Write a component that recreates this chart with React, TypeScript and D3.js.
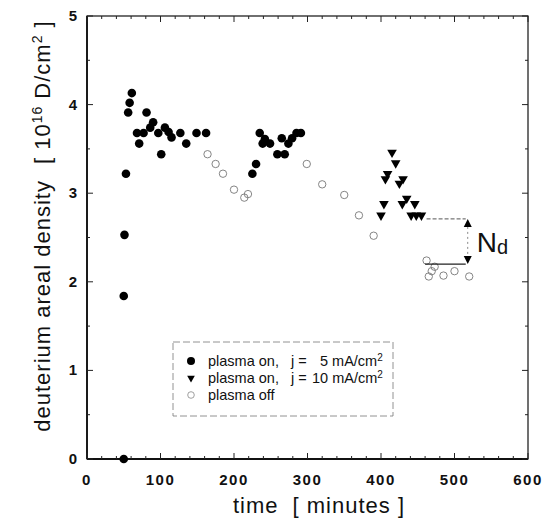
import * as d3 from 'd3'

// [time (min), deuterium areal density (1e16 D/cm2)]
const plasmaOn5: [number, number][] = [
  [50, 0.0], [50, 1.84], [51, 2.53], [53, 3.22], [56, 3.91], [58, 4.02], [61, 4.13],
  [68, 3.68], [71, 3.56], [77, 3.68], [81, 3.91], [86, 3.74], [90, 3.8], [97, 3.68],
  [101, 3.44], [106, 3.74], [111, 3.69], [115, 3.63], [127, 3.68], [135, 3.56],
  [149, 3.68], [162, 3.68],
  [225, 3.22], [230, 3.33], [235, 3.68], [239, 3.56], [242, 3.61], [249, 3.56],
  [259, 3.44], [265, 3.62], [269, 3.44], [274, 3.56], [279, 3.62], [285, 3.68], [291, 3.68],
]

const plasmaOn10: [number, number][] = [
  [400, 2.75], [404, 2.88], [406, 3.16], [409, 3.22], [415, 3.46], [420, 3.34],
  [425, 3.11], [429, 2.88], [430, 3.16], [435, 2.94], [441, 2.75], [446, 2.88],
  [448, 2.75], [455, 2.75],
]

const plasmaOff: [number, number][] = [
  [164, 3.44], [175, 3.33], [185, 3.22], [200, 3.04], [214, 2.95], [219, 2.99],
  [299, 3.33], [320, 3.1], [350, 2.98], [370, 2.75], [390, 2.52],
  [462, 2.24], [465, 2.06], [469, 2.12], [473, 2.17], [485, 2.07], [500, 2.12], [520, 2.06],
]

const xTicks = [0, 100, 200, 300, 400, 500, 600]
const yTicks = [0, 1, 2, 3, 4, 5]

// N_d annotation: upper / lower level and where it is drawn
const ndUpper = 2.71
const ndLower = 2.2
const ndX = 518
const ndStartUpper = 462
const ndStartLower = 460

const FONT = '"Liberation Sans", Arial, Helvetica, sans-serif'

export default function App() {
  const margin = { left: 87, right: 528, top: 16, bottom: 459 }
  const x = d3.scaleLinear().domain([0, 600]).range([margin.left, margin.right])
  const y = d3.scaleLinear().domain([0, 5]).range([margin.bottom, margin.top])

  const xMinor = d3.range(0, 601, 20)
  const yMinor = d3.range(0, 5.01, 0.5)

  const tri = d3.symbol().type(d3.symbolTriangle).size(40)

  const upArrow = (cx: number, tipY: number) =>
    `M${cx},${tipY} L${cx - 4},${tipY + 8} L${cx + 4},${tipY + 8} Z`
  const downArrow = (cx: number, tipY: number) =>
    `M${cx},${tipY} L${cx - 4},${tipY - 8} L${cx + 4},${tipY - 8} Z`

  const lg = { x: 173, y: 342, w: 220, h: 74 }
  const rows = [361, 378, 395]
  const lfs = 14.5

  return (
    <svg width={545} height={528} style={{ position: 'absolute', left: 0, top: 0, background: '#fff' }}
      fontFamily={FONT}>
      {/* frame */}
      <rect x={margin.left} y={margin.top} width={margin.right - margin.left}
        height={margin.bottom - margin.top} fill="none" stroke="#111" strokeWidth={1.2} />
      <line x1={margin.left} x2={margin.left} y1={margin.top} y2={margin.bottom} stroke="#111" strokeWidth={1.8} />
      <line x1={margin.left} x2={margin.right} y1={margin.bottom} y2={margin.bottom} stroke="#111" strokeWidth={1.8} />

      {/* ticks */}
      {xMinor.map(v => {
        const len = v % 100 === 0 ? 6 : 3
        return (
          <g key={'xt' + v} stroke="#222" strokeWidth={1}>
            <line x1={x(v)} x2={x(v)} y1={margin.bottom} y2={margin.bottom - len} />
            <line x1={x(v)} x2={x(v)} y1={margin.top} y2={margin.top + len} />
          </g>
        )
      })}
      {yMinor.map(v => {
        const len = Math.abs(v - Math.round(v)) < 1e-6 ? 6 : 3
        return (
          <g key={'yt' + v} stroke="#222" strokeWidth={1}>
            <line x1={margin.left} x2={margin.left + len} y1={y(v)} y2={y(v)} />
            <line x1={margin.right} x2={margin.right - len} y1={y(v)} y2={y(v)} />
          </g>
        )
      })}

      {/* tick labels */}
      {xTicks.map(v => (
        <text key={'xl' + v} x={x(v)} y={485} textAnchor="middle" fontSize={15}
          fontWeight="bold" letterSpacing={1.5} fill="#111">{v}</text>
      ))}
      {yTicks.map(v => (
        <text key={'yl' + v} x={77} y={y(v) + 5} textAnchor="end" fontSize={15}
          fontWeight="bold" fill="#111">{v}</text>
      ))}

      {/* axis titles */}
      <text x={319} y={513} textAnchor="middle" fontSize={22} letterSpacing={1} fill="#111">
        time<tspan dx={14}>[ minutes ]</tspan>
      </text>
      <text transform="translate(50,226) rotate(-90)" textAnchor="middle" fontSize={22}
        letterSpacing={1} fill="#111">
        deuterium areal density<tspan dx={16}>[ 10</tspan>
        <tspan fontSize={14} dy={-8}>16</tspan>
        <tspan dy={8}> D/cm</tspan>
        <tspan fontSize={14} dy={-8}>2</tspan>
        <tspan dy={8}> ]</tspan>
      </text>

      {/* plasma off: open circles */}
      {plasmaOff.map((d, i) => (
        <circle key={'o' + i} cx={x(d[0])} cy={y(d[1])} r={3.7} fill="none"
          stroke="#777" strokeWidth={0.9} />
      ))}
      {/* plasma on 5 mA/cm2: filled circles */}
      {plasmaOn5.map((d, i) => (
        <circle key={'f' + i} cx={x(d[0])} cy={y(d[1])} r={4.3} fill="#000" />
      ))}
      {/* plasma on 10 mA/cm2: down triangles */}
      {plasmaOn10.map((d, i) => (
        <path key={'t' + i} d={tri() as string}
          transform={`translate(${x(d[0])},${y(d[1])}) rotate(180)`} fill="#000" />
      ))}

      {/* N_d annotation */}
      <line x1={x(ndStartUpper)} x2={x(ndX) - 2} y1={y(ndUpper)} y2={y(ndUpper)}
        stroke="#555" strokeWidth={1} strokeDasharray="4 2" />
      <line x1={x(ndStartLower)} x2={x(ndX) - 2} y1={y(ndLower)} y2={y(ndLower)}
        stroke="#222" strokeWidth={1.2} />
      <line x1={x(ndX)} x2={x(ndX)} y1={y(ndUpper) + 8} y2={y(ndLower) - 8}
        stroke="#888" strokeWidth={1} strokeDasharray="2 3" />
      <path d={upArrow(x(ndX), y(ndUpper))} fill="#000" />
      <path d={downArrow(x(ndX), y(ndLower))} fill="#000" />
      <text x={x(ndX) + 9} y={y((ndUpper + ndLower) / 2) + 11} fontSize={28} fill="#111">
        N<tspan fontSize={20} dy={2}>d</tspan>
      </text>

      {/* legend */}
      <rect x={lg.x} y={lg.y} width={lg.w} height={lg.h} fill="#fff" stroke="#777"
        strokeWidth={0.8} strokeDasharray="7 3" />
      <circle cx={191} cy={rows[0]} r={4} fill="#000" />
      <path d={tri() as string} transform={`translate(191,${rows[1]}) rotate(180) scale(0.8)`} fill="#000" />
      <circle cx={191} cy={rows[2]} r={3.3} fill="none" stroke="#888" strokeWidth={0.8} />
      {[0, 1, 2].map(i => (
        <text key={'lt' + i} x={208} y={rows[i] + 5} fontSize={lfs} fill="#111">
          {i === 2 ? 'plasma off' : 'plasma on,'}
        </text>
      ))}
      <text x={291} y={rows[0] + 5} fontSize={lfs} fill="#111">j =</text>
      <text x={320} y={rows[0] + 5} fontSize={lfs} fill="#111">
        5 mA/cm<tspan fontSize={10} dy={-5}>2</tspan>
      </text>
      <text x={291} y={rows[1] + 5} fontSize={lfs} fill="#111">j =</text>
      <text x={312} y={rows[1] + 5} fontSize={lfs} fill="#111">
        10 mA/cm<tspan fontSize={10} dy={-5}>2</tspan>
      </text>
    </svg>
  )
}
